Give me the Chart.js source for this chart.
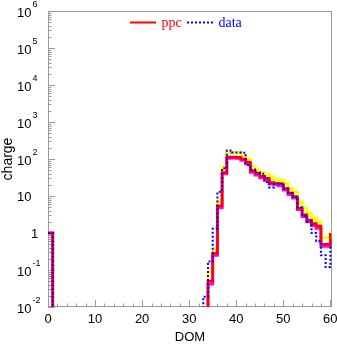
<!DOCTYPE html>
<html>
<head>
<meta charset="utf-8">
<script src="https://cdn.jsdelivr.net/npm/chart.js"></script>
<style>
  body { margin: 0; background: #fff; }
  canvas { display: block; }
</style>
</head>
<body>
<canvas id="chart" width="337" height="344"></canvas>
<script>
// DOM number = low edge of each bin
const doms = Array.from({ length: 61 }, (_, i) => i);

const ppc = [
  1, 0, 0, 0, 0, 0, 0, 0, 0, 0,
  0, 0, 0, 0, 0, 0, 0, 0, 0, 0,
  0, 0, 0, 0, 0, 0, 0, 0, 0, 0,
  0, 0, 0, 0, 0.05, 0.28, 5.4, 43, 114, 114,
  112, 100, 82, 48, 41, 34, 30, 23, 22, 21,
  16, 12, 9.6, 4.7, 3.1, 2.2, 1.8, 1.55, 0.5, 0.5, 1.0
];
const ppcUp = [
  1, 0, 0, 0, 0, 0, 0, 0, 0, 0,
  0, 0, 0, 0, 0, 0, 0, 0, 0, 0,
  0, 0, 0, 0, 0, 0, 0, 0, 0, 0,
  0, 0, 0, 0, 0.09, 0.36, 7.3, 62, 150, 150,
  148, 120, 98, 62, 50, 43, 38, 33, 28, 27,
  22, 16, 13, 7, 4.7, 3.4, 2.5, 2.0, 0.75, 0.75, 1.1
];
const ppcLow = [
  1, 0, 0, 0, 0, 0, 0, 0, 0, 0,
  0, 0, 0, 0, 0, 0, 0, 0, 0, 0,
  0, 0, 0, 0, 0, 0, 0, 0, 0, 0,
  0, 0, 0, 0, 0.042, 0.25, 4.8, 40, 105, 108,
  105, 92, 74, 44, 37, 31, 27, 21, 20, 19,
  14.5, 11, 8.8, 4.3, 2.8, 2.0, 1.6, 1.35, 0.44, 0.44, 0.6
];
const data = [
  1, 0, 0, 0, 0, 0, 0, 0, 0, 0,
  0, 0, 0, 0, 0, 0, 0, 0, 0, 0,
  0, 0, 0, 0, 0, 0, 0, 0, 0, 0,
  0, 0, 0, 0.019, 0.17, 1.3, 13, 56, 170, 150,
  150, 148, 69, 52, 43, 40, 24, 17, 21, 22,
  16, 12, 9.6, 5.0, 2.9, 2.0, 1.0, 0.6, 0.25, 0.12, 0.5
];

const xTicks = [0, 10, 20, 30, 40, 50, 60];
const yExps = [-2, -1, 0, 1, 2, 3, 4, 5, 6];

// empty bins go below the axis so the step drops out of the frame
const pts = vals => vals.map((v, i) => ({ x: doms[i], y: v > 0 ? v : 1e-4 }));

function hist(label, vals, color, width, dash) {
    return {
        label: label,
        data: pts(vals),
        borderColor: color,
        borderWidth: width,
        borderDash: dash || [],
        stepped: 'before',
        pointRadius: 0,
        fill: false
    };
}

const sans = '"Liberation Sans", Arial, sans-serif';

const decor = {
    id: 'decor',
    beforeDatasetsDraw(chart) {
        const { ctx, chartArea: a, scales: { x, y } } = chart;
        ctx.save();
        ctx.strokeStyle = '#9a9a9a';
        ctx.lineWidth = 1;
        ctx.strokeRect(a.left + 0.5, a.top + 0.5, a.right - a.left - 1, a.bottom - a.top - 1);
        ctx.beginPath();
        for (let v = 0; v <= x.max; v += 2) {
            const px = Math.round(x.getPixelForValue(v)) + 0.5;
            const len = v % 10 === 0 ? 7 : 3.5;
            ctx.moveTo(px, a.bottom);
            ctx.lineTo(px, a.bottom - len);
        }
        for (let e = yExps[0]; e < yExps[yExps.length - 1]; e++) {
            for (let m = 1; m < 10; m++) {
                const py = Math.round(y.getPixelForValue(m * Math.pow(10, e))) + 0.5;
                const len = m === 1 ? 7 : 3.5;
                ctx.moveTo(a.left, py);
                ctx.lineTo(a.left + len, py);
            }
        }
        ctx.stroke();
        ctx.restore();
    },
    afterDraw(chart) {
        const { ctx, chartArea: a, scales: { x, y } } = chart;
        ctx.save();
        ctx.fillStyle = '#000';
        ctx.textBaseline = 'middle';
        ctx.textAlign = 'left';
        yExps.forEach(e => {
            const py = y.getPixelForValue(Math.pow(10, e));
            ctx.font = '13px ' + sans;
            if (e === 0) {
                ctx.fillText('1', 31, py + 1);
            } else if (e === 1) {
                ctx.fillText('10', 17, py + 1.5);
            } else {
                ctx.fillText('10', 17, py + 2);
                ctx.font = '9px ' + sans;
                ctx.fillText(String(e), 32.5, py - 6);
            }
        });

        ctx.font = '13px ' + sans;
        ctx.textAlign = 'center';
        xTicks.forEach(v => {
            ctx.fillText(String(v), x.getPixelForValue(v), a.bottom + 12.5);
        });

        // axis titles
        ctx.fillText('DOM', (a.left + a.right) / 2, 337);
        ctx.save();
        ctx.translate(8.5, (a.top + a.bottom) / 2);
        ctx.rotate(-Math.PI / 2);
        ctx.font = '14px ' + sans;
        ctx.fillText('charge', 0, 0);
        ctx.restore();

        // legend
        const ly = 22.5;
        ctx.lineWidth = 2;
        ctx.strokeStyle = '#ff0000';
        ctx.beginPath();
        ctx.moveTo(130, ly);
        ctx.lineTo(156, ly);
        ctx.stroke();
        ctx.strokeStyle = '#0000ff';
        ctx.setLineDash([2, 2]);
        ctx.beginPath();
        ctx.moveTo(187, ly);
        ctx.lineTo(213, ly);
        ctx.stroke();
        ctx.setLineDash([]);
        ctx.font = '14px "Liberation Serif", "Times New Roman", serif';
        ctx.textAlign = 'left';
        ctx.textBaseline = 'alphabetic';
        ctx.fillStyle = '#ff0000';
        ctx.fillText('ppc', 161.5, 26.5);
        ctx.fillStyle = '#0000ff';
        ctx.fillText('data', 218.5, 26.5);
        ctx.restore();
    }
};

new Chart(document.getElementById('chart'), {
    type: 'line',
    data: {
        datasets: [
            hist('data', data, '#0000ff', 2, [2, 2]),
            hist('ppc', ppc, '#ff0000', 2.5),
            hist('ppc low', ppcLow, '#ff00ff', 3),
            hist('ppc high', ppcUp, '#ffff00', 3)
        ]
    },
    options: {
        responsive: false,
        animation: false,
        devicePixelRatio: 1,
        layout: { padding: { top: 11, right: 5, left: 0, bottom: 0 } },
        plugins: { legend: { display: false }, tooltip: { enabled: false } },
        scales: {
            x: {
                type: 'linear',
                min: 0,
                max: 60.35,
                afterFit: s => { s.height = 37; },
                grid: { display: false },
                border: { display: false },
                ticks: { display: false }
            },
            y: {
                type: 'logarithmic',
                min: 0.01,
                max: 1e6,
                afterFit: s => { s.width = 48; },
                grid: { display: false },
                border: { display: false },
                ticks: { display: false }
            }
        }
    },
    plugins: [decor]
});
</script>
</body>
</html>
